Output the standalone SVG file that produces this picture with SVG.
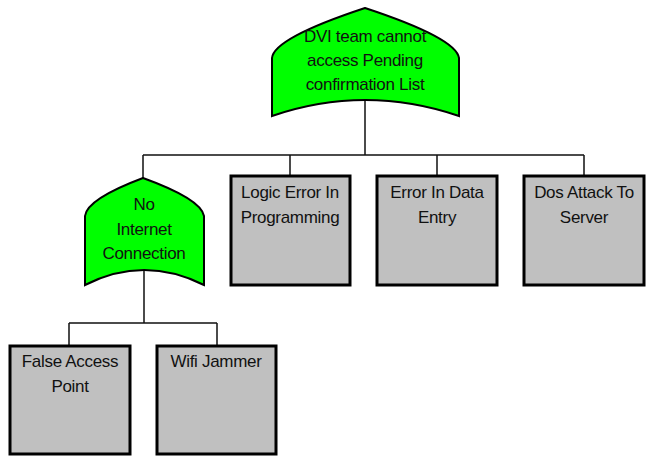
<svg xmlns="http://www.w3.org/2000/svg" width="652" height="461" viewBox="0 0 652 461">
<style>
.gate{fill:#00ff00;stroke:#000;stroke-width:2}
.box{fill:#c0c0c0;stroke:#000;stroke-width:3}
.t{font-family:"Liberation Sans",Arial,sans-serif;font-size:17px;letter-spacing:-0.3px;fill:#111;text-anchor:middle}
.c{fill:none;stroke:#111;stroke-width:1.5}
</style>
<rect width="652" height="461" fill="#fff"/>
<g id="connectors">
<path class="c" d="M365,100 V155 M143,155 H584 M143,155 V178 M290,155 V176 M437,155 V176 M584,155 V176"/>
<path class="c" d="M144,270 V323 M69,323 H217 M69,323 V346 M217,323 V346"/>
</g>
<g id="top">
<path class="gate" d="M272,116 L272,58 Q274,38 365,8 Q456,38 459,58 L459,116 Q365,84 272,116 Z"/>
<text class="t" x="365" y="42">DVI team cannot</text>
<text class="t" x="365" y="66">access Pending</text>
<text class="t" x="365" y="90">confirmation List</text>
</g>
<g id="nointernet">
<path class="gate" d="M85,285 L85,216 Q87,199 143,178 Q201,199 204,216 L204,285 Q144,255 85,285 Z"/>
<text class="t" x="144" y="210">No</text>
<text class="t" x="144" y="235">Internet</text>
<text class="t" x="144" y="259">Connection</text>
</g>
<g id="logic">
<rect class="box" x="231" y="176" width="119" height="109"/>
<text class="t" x="290" y="198">Logic Error In</text>
<text class="t" x="290" y="223">Programming</text>
</g>
<g id="dataentry">
<rect class="box" x="377" y="176" width="120" height="109"/>
<text class="t" x="437" y="198">Error In Data</text>
<text class="t" x="437" y="223">Entry</text>
</g>
<g id="dos">
<rect class="box" x="524" y="176" width="120" height="109"/>
<text class="t" x="584" y="198">Dos Attack To</text>
<text class="t" x="584" y="223">Server</text>
</g>
<g id="falseap">
<rect class="box" x="10" y="346" width="120" height="108"/>
<text class="t" x="70" y="367">False Access</text>
<text class="t" x="70" y="392">Point</text>
</g>
<g id="wifi">
<rect class="box" x="157" y="346" width="119" height="108"/>
<text class="t" x="216" y="367">Wifi Jammer</text>
</g>
</svg>
